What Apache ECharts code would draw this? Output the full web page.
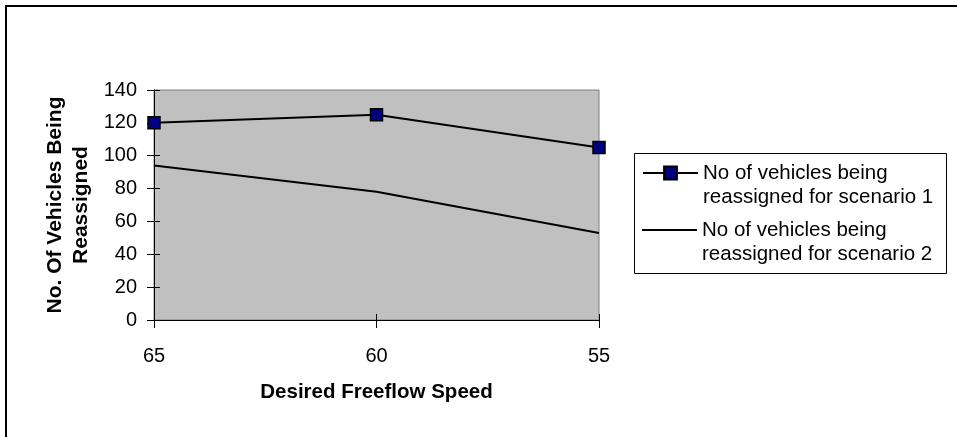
<!DOCTYPE html>
<html>
<head>
<meta charset="utf-8">
<script src="https://cdn.jsdelivr.net/npm/echarts@6/dist/echarts.min.js"></script>
<style>
html,body{margin:0;padding:0;background:#fff;}
#chart{width:957px;height:437px;}
</style>
</head>
<body>
<div id="chart"></div>
<script>
var categories = ['65', '60', '55'];
var scenario1 = [120, 125, 105];
var scenario2 = [94, 78, 53];
var seriesNames = [
  'No of vehicles being reassigned for scenario 1',
  'No of vehicles being reassigned for scenario 2'
];
var legendLines = [
  ['No of vehicles being', 'reassigned for scenario 1'],
  ['No of vehicles being', 'reassigned for scenario 2']
];
var xTitle = 'Desired Freeflow Speed';
var yTitle = 'No. Of Vehicles Being\nReassigned';

var FONT = 'Arial, "Liberation Sans", sans-serif';
var chart = echarts.init(document.getElementById('chart'), null, {renderer: 'canvas'});

var legendText = {
  fontFamily: FONT, fontSize: 20.5, color: '#000', lineHeight: 24
};
function legendFormatter(idx) {
  return function () {
    // blank leading line so the icon lines up with the first text line
    return '\u00a0\n' + legendLines[idx][0] + '\n' + legendLines[idx][1];
  };
}

var option = {
  animation: false,
  backgroundColor: '#fff',
  grid: {
    left: 154, top: 90, right: 358, bottom: 117,
    show: true, backgroundColor: '#C0C0C0', borderColor: '#808080', borderWidth: 1
  },
  xAxis: [{
    type: 'category', data: categories, boundaryGap: false,
    axisLine: {lineStyle: {color: '#000', width: 1}},
    axisTick: {show: true, inside: false, length: 8, alignWithLabel: true, lineStyle: {color: '#000'}},
    axisLabel: {fontFamily: FONT, fontSize: 20, color: '#000', margin: 26},
    splitLine: {show: false},
    name: xTitle, nameLocation: 'middle', nameGap: 62,
    nameTextStyle: {fontFamily: FONT, fontSize: 20.5, fontWeight: 'bold', color: '#000'}
  }, {
    type: 'category', data: categories, boundaryGap: false, position: 'bottom',
    axisLine: {show: false},
    axisTick: {show: true, inside: true, length: 6, lineStyle: {color: '#000'}},
    axisLabel: {show: false}, splitLine: {show: false}
  }],
  yAxis: [{
    type: 'value', min: 0, max: 140, interval: 20,
    axisLine: {show: true, lineStyle: {color: '#000', width: 1}},
    axisTick: {show: true, inside: false, length: 7, lineStyle: {color: '#000'}},
    axisLabel: {fontFamily: FONT, fontSize: 20, color: '#000', margin: 17},
    splitLine: {show: false},
    name: yTitle, nameLocation: 'middle', nameGap: 60, nameRotate: 90,
    nameTextStyle: {fontFamily: FONT, fontSize: 21, fontWeight: 'bold', color: '#000', lineHeight: 26, align: 'center'}
  }, {
    type: 'value', min: 0, max: 140, interval: 20, position: 'left',
    axisLine: {show: false},
    axisTick: {show: true, inside: true, length: 6, lineStyle: {color: '#000'}},
    axisLabel: {show: false}, splitLine: {show: false}
  }],
  legend: [{
    data: [seriesNames[0]], left: 642, top: 137, orient: 'vertical',
    itemWidth: 55, itemHeight: 16, itemGap: 0, padding: 0,
    formatter: legendFormatter(0),
    textStyle: legendText, selectedMode: false
  }, {
    data: [{name: seriesNames[1], icon: 'rect'}], left: 642, top: 194, orient: 'vertical',
    itemWidth: 55, itemHeight: 2, itemGap: 0, padding: 0,
    formatter: legendFormatter(1),
    itemStyle: {color: '#000', borderWidth: 0},
    textStyle: legendText, selectedMode: false
  }],
  graphic: [{
    type: 'rect', shape: {x: 6, y: 6, width: 1000, height: 1000},
    style: {fill: 'none', stroke: '#000', lineWidth: 2}, silent: true
  }, {
    type: 'rect', shape: {x: 634.5, y: 153.5, width: 312, height: 120},
    style: {fill: 'none', stroke: '#000', lineWidth: 1}, silent: true
  }],
  series: [{
    name: seriesNames[0], type: 'line', data: scenario1,
    symbol: 'rect', symbolSize: 12,
    lineStyle: {color: '#000', width: 2},
    itemStyle: {color: '#000080', borderColor: '#000', borderWidth: 1.5}
  }, {
    name: seriesNames[1], type: 'line', data: scenario2,
    symbol: 'none',
    lineStyle: {color: '#000', width: 2},
    itemStyle: {color: '#000'}
  }]
};
chart.setOption(option);
</script>
</body>
</html>
